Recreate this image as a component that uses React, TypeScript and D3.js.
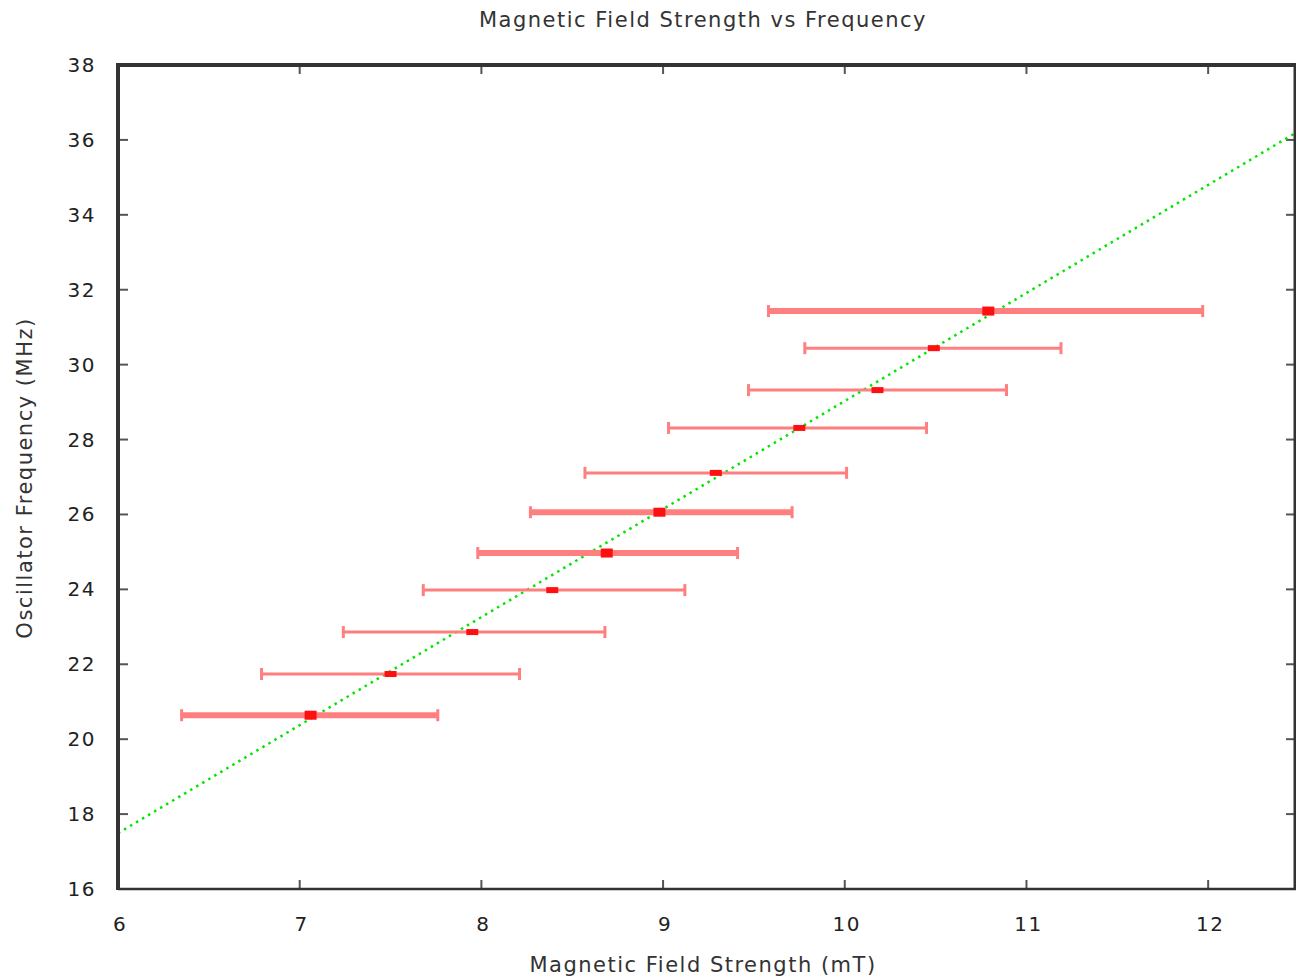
import React from "react";
import * as d3 from "d3";

const fieldCenter = [7.06, 7.5, 7.95, 8.39, 8.69, 8.98, 9.29, 9.75, 10.18, 10.49, 10.79];
const fieldLow = [6.35, 6.79, 7.24, 7.68, 7.98, 8.27, 8.57, 9.03, 9.47, 9.78, 9.58];
const fieldHigh = [7.76, 8.21, 8.68, 9.12, 9.41, 9.71, 10.01, 10.45, 10.89, 11.19, 11.97];
const frequency = [20.64, 21.74, 22.86, 23.98, 24.97, 26.06, 27.11, 28.31, 29.32, 30.44, 31.43];
const thickBar = [true, false, false, false, true, true, false, false, false, false, true];

const fitLineX = [6, 12.5];
const fitLineY = [17.49, 36.24];

const xTicks = [6, 7, 8, 9, 10, 11, 12];
const yTicks = [16, 18, 20, 22, 24, 26, 28, 30, 32, 34, 36, 38];

const W = 1296;
const H = 978;
const L = 118, R = 1299, T = 65, B = 889;

export default function App() {
  const x = d3.scaleLinear().domain([6, 12.5]).range([L, R]);
  const y = d3.scaleLinear().domain([16, 38]).range([B, T]);
  const fitPts = fitLineX.map((v, i) => [x(v), y(fitLineY[i])] as [number, number]);
  const line = d3.line();
  const font = "'DejaVu Sans', sans-serif";

  return (
    <svg width={W} height={H} style={{ position: "absolute", left: 0, top: 0, background: "#fff" }}>
      <text x={703} y={27} textAnchor="middle" fontFamily={font} fontSize={21} fill="#333" letterSpacing={1.5}>
        Magnetic Field Strength vs Frequency
      </text>

      {/* ticks */}
      {xTicks.map((t) => (
        <g key={"xt" + t}>
          <line x1={x(t)} x2={x(t)} y1={B} y2={B - 9} stroke="#555" strokeWidth={2} />
          <line x1={x(t)} x2={x(t)} y1={T} y2={T + 9} stroke="#555" strokeWidth={2} />
          <text x={x(t) + 2} y={931} textAnchor="middle" fontFamily={font} fontSize={20} fill="#222" letterSpacing={1.5}>
            {t}
          </text>
        </g>
      ))}
      {yTicks.map((t) => (
        <g key={"yt" + t}>
          <line x1={L} x2={L + 10} y1={y(t)} y2={y(t)} stroke="#555" strokeWidth={2} />
          <line x1={W - 10} x2={W} y1={y(t)} y2={y(t)} stroke="#555" strokeWidth={2} />
          <text x={96} y={y(t) + 7} textAnchor="end" fontFamily={font} fontSize={20} fill="#222" letterSpacing={1.5}>
            {t}
          </text>
        </g>
      ))}

      {/* fit line */}
      <path d={line(fitPts) || ""} stroke="#00e600" strokeWidth={2.5} strokeDasharray="2.5 4.5" fill="none" />

      {/* error bars */}
      {frequency.map((f, i) => {
        const yy = y(f);
        const w = thickBar[i] ? 6 : 3;
        const capH = 12;
        return (
          <g key={"eb" + i}>
            <line x1={x(fieldLow[i])} x2={x(fieldHigh[i])} y1={yy} y2={yy} stroke="#ff7f7f" strokeWidth={w} />
            <line x1={x(fieldLow[i])} x2={x(fieldLow[i])} y1={yy - capH / 2} y2={yy + capH / 2} stroke="#ff7f7f" strokeWidth={3} />
            <line x1={x(fieldHigh[i])} x2={x(fieldHigh[i])} y1={yy - capH / 2} y2={yy + capH / 2} stroke="#ff7f7f" strokeWidth={3} />
            <rect x={x(fieldCenter[i]) - 6} y={yy - (w + 3) / 2} width={12} height={w + 3} fill="#ff1010" />
          </g>
        );
      })}

      {/* frame */}
      <line x1={L} x2={W} y1={T} y2={T} stroke="#333" strokeWidth={4} />
      <line x1={L} x2={L} y1={T - 2} y2={B + 1} stroke="#333" strokeWidth={4} />
      <line x1={L} x2={W} y1={B} y2={B} stroke="#333" strokeWidth={2.5} />
      <line x1={W - 1} x2={W - 1} y1={T} y2={B} stroke="#333" strokeWidth={3} />

      <text x={703} y={972} textAnchor="middle" fontFamily={font} fontSize={21} fill="#333" letterSpacing={1.5}>
        Magnetic Field Strength (mT)
      </text>
      <text
        transform={`translate(32, 478) rotate(-90)`}
        textAnchor="middle"
        fontFamily={font}
        fontSize={21}
        fill="#333"
        letterSpacing={1.5}
      >
        Oscillator Frequency (MHz)
      </text>
    </svg>
  );
}
